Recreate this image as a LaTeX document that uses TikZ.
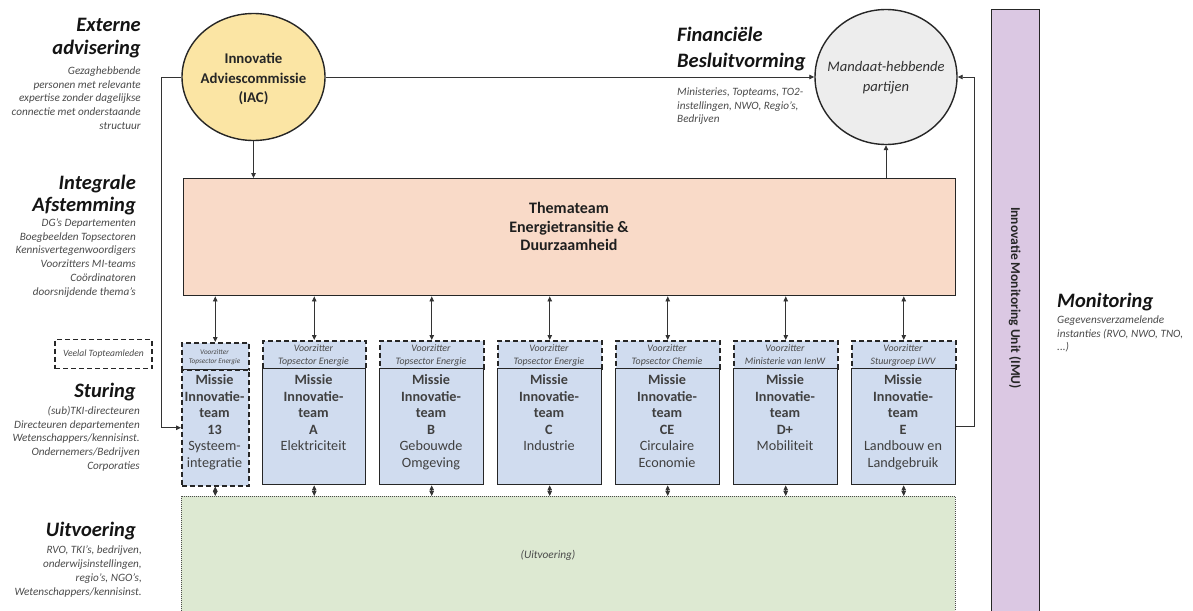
\documentclass[tikz,border=0pt]{standalone}
\usepackage{fontspec}
\setmainfont{Carlito}
\usetikzlibrary{arrows.meta,calc,shapes.geometric}

\definecolor{iacfill}{HTML}{FBE5A4}
\definecolor{mandfill}{HTML}{EDEDED}
\definecolor{themafill}{HTML}{F9DAC8}
\definecolor{mifill}{HTML}{D0DCEF}
\definecolor{execfill}{HTML}{DDE9D2}
\definecolor{imufill}{HTML}{DBC8E3}
\definecolor{inkgray}{HTML}{4A4A4A}

% multi-line nodes below are placed by the baseline of their LAST line
\tikzset{
  heading/.style={font=\fontsize{20.5}{22.5}\selectfont\bfseries\itshape, text=black!92,
    inner sep=0pt, align=right, anchor=base east},
  note/.style={font=\fontsize{11.2}{13.7}\selectfont\itshape, text=inkgray,
    inner sep=0pt, align=right, anchor=base east},
  lefttext/.style={align=left, anchor=base west},
  conn/.style={draw=black!80, line width=0.8pt},
  dbl/.style={conn, <->},
  solidbox/.style={draw=black!85, line width=1.4pt, rectangle, inner sep=0pt, anchor=north west},
  dashbox/.style={solidbox, dash pattern=on 5pt off 3pt, line width=1.5pt},
  chairbox/.style={dashbox, fill=mifill},
  mibody/.style={solidbox, fill=mifill},
  disc/.style={ellipse, draw=black!85, line width=1.4pt, inner sep=0pt},
  chairtext/.style={font=\fontsize{9.9}{13}\selectfont\itshape, text=inkgray, inner sep=0pt,
    align=center, anchor=base},
  mitext/.style={font=\fontsize{14.2}{16.6}\selectfont, text=black!75, inner sep=0pt,
    align=center, anchor=base},
}

\begin{document}
\begin{tikzpicture}[x=1pt, y=-1pt, >={Triangle[length=5pt,width=4.5pt]}]
\clip (0,0) rectangle (1193,610);
\useasboundingbox (0,0) rectangle (1193,610);

% ---- top level: advisory committee and mandated parties
\node[disc, fill=iacfill, minimum width=143pt, minimum height=127pt] (iac) at (253.5,77) {};
\node[font=\fontsize{14.8}{19.8}\selectfont\bfseries, text=black!85, inner sep=0pt,
      align=center, anchor=base] (iactext) at (253.5,102.8)
      {Innovatie\\Adviescommissie\\(IAC)};
\node[disc, fill=mandfill, minimum width=142pt, minimum height=135pt] (mand) at (886,77) {};
\node[font=\fontsize{14.6}{20}\selectfont\itshape, text=black!80, inner sep=0pt,
      align=center, anchor=base] (mandtext) at (886,91.5)
      {Mandaat-hebbende\\partijen};

% ---- theme team
\node[solidbox, fill=themafill, minimum width=772pt, minimum height=117pt] (thema) at (183,178) {};
\node[font=\fontsize{16}{18.7}\selectfont\bfseries, text=black!88, inner sep=0pt,
      align=center, anchor=base] (thematext) at (569,250.9)
      {Thematea\-m\\Energietransitie \&\\Duurzaamheid};

% ---- execution layer
\node[rectangle, anchor=north west, fill=execfill, draw=black!70, line width=0.9pt,
      dash pattern=on 1pt off 1pt, minimum width=774pt, minimum height=130pt] (exec) at (181,496) {};
\node[font=\fontsize{11.3}{13}\selectfont\itshape, text=inkgray, inner sep=0pt, anchor=base]
      (exectext) at (548,558) {(Uitvoering)};

% ---- monitoring unit
\node[solidbox, fill=imufill, minimum width=48pt, minimum height=620pt] (imu) at (991,9) {};
\node[font=\fontsize{13.5}{15}\selectfont\bfseries, text=black!85, rotate=-90, inner sep=0pt]
      (imutext) at (1015,298) {Innovatie Monitoring Unit (IMU)};

% ---- mission team 13 (dashed, narrow)
\node[chairbox, minimum width=67pt, minimum height=27pt] (h13) at (181,342) {};
\node[dashbox, fill=mifill, minimum width=67pt, minimum height=116pt] (m13) at (181,369) {};
\node[chairtext, font=\fontsize{7.2}{9}\selectfont\itshape] (c13) at (214.5,363)
      {Voorzitter\\Topsector Energie};
\node[mitext] (t13) at (214.5,467.5)
      {\textbf{Missie}\\\textbf{Innovatie-}\\\textbf{team}\\\textbf{13}\\Systeem-\\integratie};

% ---- mission teams A .. E
\foreach \nm/\xl/\xr/\lt/\sub/\chair/\lastbase in {
    A/262/365/A/{Elektriciteit}/{Topsector Energie}/450.9,
    B/379/483/B/{Gebouwde\\Omgeving}/{Topsector Energie}/467.5,
    C/497/601/C/{Industrie}/{Topsector Energie}/450.9,
    CE/615/719/CE/{Circulaire\\Economie}/{Topsector Chemie}/467.5,
    D/733/837/D+/{Mobiliteit}/{Ministerie van IenW}/450.9,
    E/851/955/E/{Landbouw en\\Landgebruik}/{Stuurgroep LWV}/467.5} {
  \pgfmathsetmacro\w{\xr-\xl}
  \pgfmathsetmacro\xc{(\xr+\xl)/2}
  \node[chairbox, minimum width=\w pt, minimum height=28pt] (h\nm) at (\xl,340) {};
  \node[mibody, minimum width=\w pt, minimum height=116pt] (m\nm) at (\xl,368) {};
  \node[chairtext] (c\nm) at (\xc,364.5) {Voorzitter\\\chair};
  \node[mitext] (t\nm) at (\xc,\lastbase)
      {\textbf{Missie}\\\textbf{Innovatie-}\\\textbf{team}\\\textbf{\lt}\\\sub};
}

% ---- connectors between layers
\foreach \nm in {13,A,B,C,CE,D,E} {
  \draw[dbl] (h\nm.north |- thema.south) -- (h\nm.north);
  \draw[dbl] (m\nm.south) -- (m\nm.south |- exec.north);
}
\draw[conn,->] (iac.south) -- (iac.south |- thema.north);
\draw[conn,->] (iac.east) -- (mand.west);
\draw[conn,->] (mand.south |- thema.north) -- (mand.south);
\draw[conn,->] (iac.west) -- ++(-20,0) |- (m13.west);
\coordinate (loopright) at ($(mE.east)+(18,0)$);
\draw[conn,->] (mE.east) -- (loopright) |- (mand.east);

% ---- left-hand legend
\node[heading] (hExt) at (141,54.5) {Externe\\advisering};
\node[note] (nExt) at (141,129.3) {Gezaghebbende\\personen met relevante\\expertise zonder dagelijkse\\connectie met onderstaande\\structuur};

\node[heading] (hInt) at (136,211.5) {Integrale\\Afstemming};
\node[note] (nInt) at (136,295) {DG’s Departementen\\Boegbeelden Topsectoren\\Kennisvertegenwoordigers\\Voorzitters MI-teams\\Coördinatoren\\doorsnijdende thema’s};

\node[draw=black!85, line width=1.5pt, dash pattern=on 5pt off 3pt, minimum width=97pt,
      minimum height=29pt, inner sep=0pt, font=\fontsize{9.6}{11}\selectfont\itshape,
      text=inkgray] (topteam) at (103.5,354) {Veelal Topteamleden};

\node[heading] (hStu) at (136,397) {Sturing};
\node[note] (nStu) at (140,469.3) {(sub)TKI-directeuren\\Directeuren departementen\\Wetenschappers/kennisinst.\\Ondernemers/Bedrijven\\Corporaties};

\node[heading] (hUit) at (136,536) {Uitvoering};
\node[note] (nUit) at (142,595) {RVO, TKI’s, bedrijven,\\onderwijsinstellingen,\\regio’s, NGO’s,\\Wetenschappers/kennisinst.};

% ---- right-hand legend
\node[heading, lefttext, font=\fontsize{20.5}{25.5}\selectfont\bfseries\itshape] (hFin) at (677,67) {Financiële\\Besluitvorming};
\node[note, lefttext] (nFin) at (677,122.9) {Ministeries, Topteams, TO2-\\instellingen, NWO, Regio’s,\\Bedrijven};

\node[heading, lefttext] (hMon) at (1057,307) {Monitoring};
\node[note, lefttext] (nMon) at (1057,350.9) {Gegevensverzamelende\\instanties (RVO, NWO, TNO,\\...)};
\end{tikzpicture}
\end{document}
